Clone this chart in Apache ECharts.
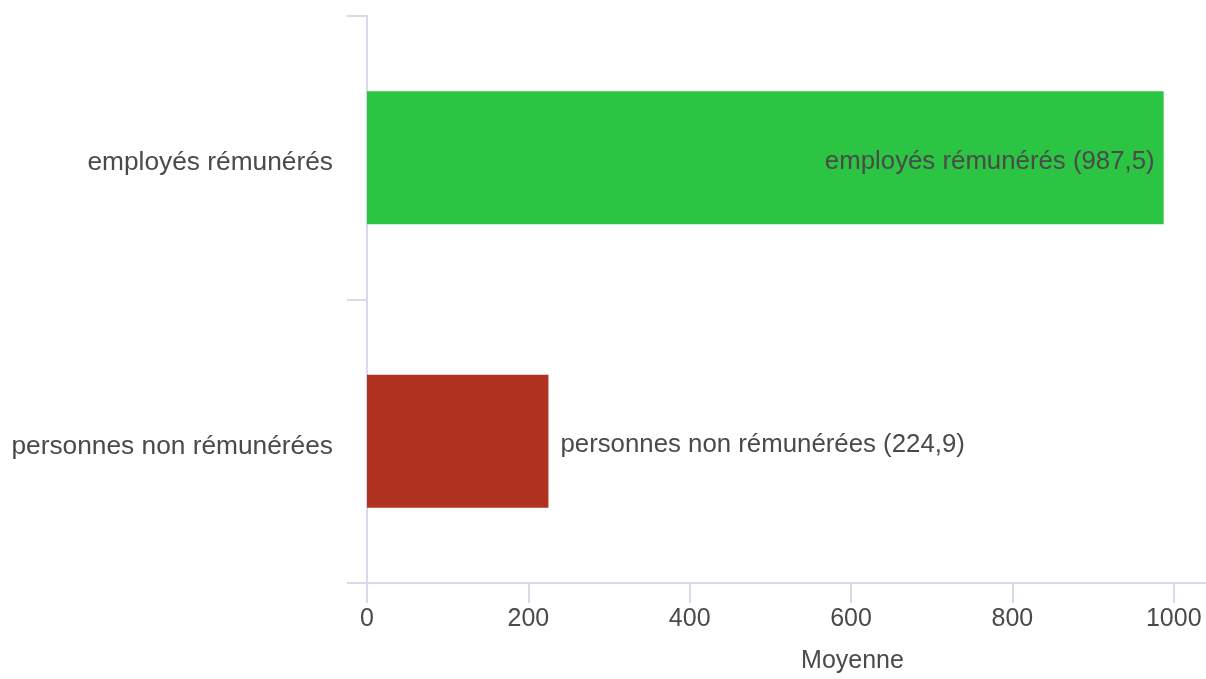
<!DOCTYPE html>
<html>
<head>
<meta charset="utf-8">
<script src="https://cdn.jsdelivr.net/npm/echarts@6/dist/echarts.min.js"></script>
<style>
html,body{margin:0;padding:0;background:#fff;}
#chart{width:1206px;height:679px;}
</style>
</head>
<body>
<div id="chart"></div>
<script>
const categories = ['employés rémunérés', 'personnes non rémunérées'];
const values = [987.5, 224.9];
const barColors = ['#2bc443', '#b03221'];
const tickValues = [0, 200, 400, 600, 800, 1000];
const axisName = 'Moyenne';

function fmt(v) { return v.toFixed(1).replace('.', ','); }

const chart = echarts.init(document.getElementById('chart'));
const axisColor = '#d6daea';
const textColor = '#4a4a4a';
const font = 'Liberation Sans, Arial, sans-serif';

chart.setOption({
  animation: false,
  grid: { left: 367, right: 0, top: 16, bottom: 96, containLabel: false },
  xAxis: {
    type: 'value',
    min: 0,
    max: 1040,
    name: axisName,
    nameLocation: 'middle',
    nameGap: 66,
    nameTextStyle: { color: textColor, fontSize: 25, fontFamily: font, padding: [0, 0, 0, 132] },
    axisLine: { show: true, lineStyle: { color: axisColor, width: 2 } },
    axisTick: { show: true, length: 20, customValues: tickValues, lineStyle: { color: axisColor, width: 2 } },
    axisLabel: { color: textColor, fontSize: 25, fontFamily: font, margin: 24, customValues: tickValues, formatter: v => String(v) },
    splitLine: { show: false }
  },
  yAxis: {
    type: 'category',
    inverse: true,
    data: categories,
    axisLine: { show: true, lineStyle: { color: axisColor, width: 2 } },
    axisTick: { show: true, length: 20, lineStyle: { color: axisColor, width: 2 } },
    axisLabel: {
      color: textColor, fontSize: 26.3, fontFamily: font, margin: 34,
      formatter: v => '{a|' + v + '}',
      rich: { a: { color: textColor, fontSize: 26.3, fontFamily: font, padding: [10, 0, 0, 0] } }
    }
  },
  series: [{
    type: 'bar',
    barWidth: '47%',
    data: values.map((v, i) => ({
      value: v,
      itemStyle: { color: barColors[i] },
      label: i === 0
        ? { show: true, position: 'insideRight', distance: 9 }
        : { show: true, position: 'right', distance: 12 }
    })),
    label: {
      show: true,
      color: textColor,
      fontSize: 25.8,
      fontFamily: font,
      offset: [0, 4],
      formatter: p => p.name + ' (' + fmt(p.value) + ')'
    }
  }]
});
</script>
</body>
</html>
